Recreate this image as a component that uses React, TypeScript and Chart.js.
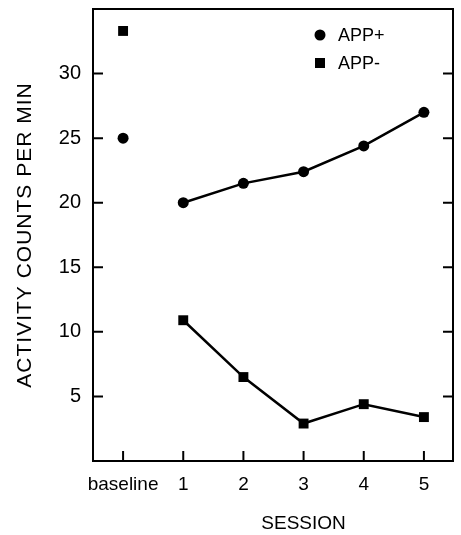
import React, { useEffect, useRef } from "react";
import { Chart, registerables } from "chart.js";

Chart.register(...registerables);

const categories = ["baseline", "1", "2", "3", "4", "5"];
const appPlus = [25.0, 20.0, 21.5, 22.4, 24.4, 27.0];
const appMinus = [33.3, 10.9, 6.5, 2.9, 4.4, 3.4];
const yTicks = [5, 10, 15, 20, 25, 30];
const xTitle = "SESSION";
const yTitle = "ACTIVITY COUNTS PER MIN";
const legendLabels = ["APP+", "APP-"];

const FONT = "'Liberation Sans', Arial, sans-serif";

const framePlugin = {
  id: "frame",
  afterDraw(chart: any) {
    const { ctx, chartArea } = chart;
    const { left, right, top, bottom } = chartArea;
    const xs = chart.scales.x;
    const ys = chart.scales.y;
    ctx.save();
    ctx.strokeStyle = "#000";
    ctx.lineWidth = 2;
    ctx.strokeRect(left, top, right - left - 1, bottom - top);
    ctx.lineWidth = 2;
    yTicks.forEach((v) => {
      const y = ys.getPixelForValue(v);
      ctx.beginPath();
      ctx.moveTo(left, y);
      ctx.lineTo(left + 10, y);
      ctx.moveTo(right - 1, y);
      ctx.lineTo(right - 11, y);
      ctx.stroke();
    });
    categories.forEach((_, i) => {
      const x = xs.getPixelForValue(i);
      ctx.beginPath();
      ctx.moveTo(x, bottom);
      ctx.lineTo(x, bottom - 10);
      ctx.stroke();
    });
    // legend
    ctx.fillStyle = "#000";
    ctx.font = `18px ${FONT}`;
    ctx.textBaseline = "middle";
    ctx.textAlign = "left";
    const lx = 320;
    const ly = [35, 63];
    ctx.beginPath();
    ctx.arc(lx, ly[0], 5.5, 0, Math.PI * 2);
    ctx.fill();
    ctx.fillRect(lx - 5, ly[1] - 5, 10, 10);
    ctx.fillText(legendLabels[0], lx + 18, ly[0] + 1);
    ctx.fillText(legendLabels[1], lx + 18, ly[1] + 1);
    // axis titles
    ctx.font = `19px ${FONT}`;
    ctx.textAlign = "center";
    ctx.fillText(xTitle, xs.getPixelForValue(3), 524);
    ctx.save();
    ctx.font = `21px ${FONT}`;
    (ctx as any).letterSpacing = "1px";
    ctx.translate(25, 235);
    ctx.rotate(-Math.PI / 2);
    ctx.fillText(yTitle, 0, 0);
    ctx.restore();
    ctx.restore();
  },
};

export default function App() {
  const ref = useRef<HTMLCanvasElement>(null);
  useEffect(() => {
    if (!ref.current) return;
    const seg = {
      borderColor: (c: any) => (c.p0DataIndex === 0 ? "rgba(0,0,0,0)" : "#000"),
    };
    const chart = new Chart(ref.current, {
      type: "line",
      data: {
        labels: categories,
        datasets: [
          {
            label: legendLabels[0],
            data: appPlus,
            borderColor: "#000",
            backgroundColor: "#000",
            borderWidth: 2.5,
            pointStyle: "circle",
            pointRadius: 5.5,
            pointBorderWidth: 0,
            segment: seg,
          },
          {
            label: legendLabels[1],
            data: appMinus,
            borderColor: "#000",
            backgroundColor: "#000",
            borderWidth: 2.5,
            pointStyle: "rect",
            pointRadius: 7,
            pointBorderWidth: 0,
            segment: seg,
          },
        ],
      },
      options: {
        animation: false,
        responsive: false,
        layout: { padding: { top: 9, right: 0, left: 0, bottom: 0 } },
        plugins: { legend: { display: false }, tooltip: { enabled: false } },
        scales: {
          x: {
            offset: true,
            grid: { display: false, drawTicks: false },
            border: { display: false },
            ticks: {
              padding: 12,
              color: "#000",
              font: { family: FONT, size: 19 },
              maxRotation: 0,
              autoSkip: false,
            },
            afterFit: (s: any) => {
              s.height = 74;
              s.paddingLeft = 0;
              s.paddingRight = 0;
            },
          },
          y: {
            min: 0,
            max: 35,
            grid: { display: false, drawTicks: false },
            border: { display: false },
            ticks: {
              stepSize: 5,
              padding: 12,
              color: "#000",
              font: { family: FONT, size: 20 },
              callback: (v: any) => (yTicks.includes(Number(v)) ? String(v) : ""),
            },
            afterFit: (s: any) => {
              s.width = 93;
              s.paddingTop = 0;
              s.paddingBottom = 0;
            },
          },
        },
      },
      plugins: [framePlugin],
    });
    return () => chart.destroy();
  }, []);
  return (
    <div style={{ position: "fixed", left: 0, top: 0, width: 461, height: 535, background: "#fff" }}>
      <canvas ref={ref} width={461} height={535} style={{ display: "block" }} />
    </div>
  );
}
